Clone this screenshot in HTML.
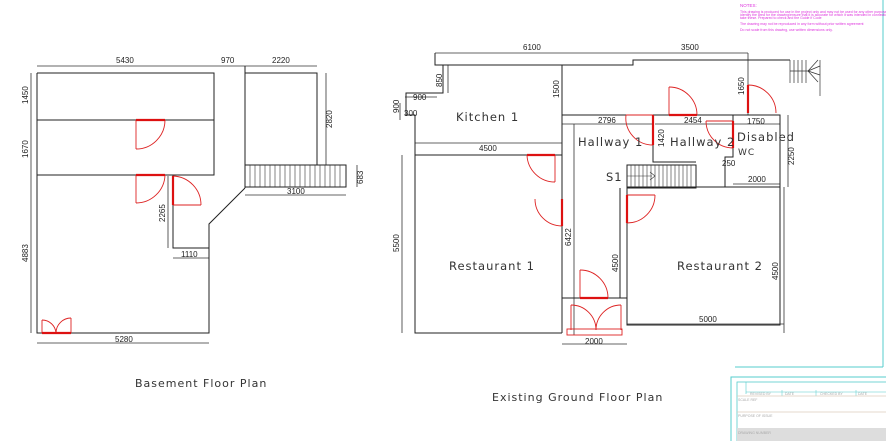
<!DOCTYPE html>
<html><head><meta charset="utf-8"><style>
html,body{margin:0;padding:0;background:#fff;}
svg{display:block;}
.w{stroke:#222;stroke-width:1;fill:none;}
.d{stroke:#333;stroke-width:0.8;fill:none;}
.r{stroke:#d22;stroke-width:0.9;fill:none;}
.rl{stroke:#d11;stroke-width:2.2;}
.t{font-family:"Liberation Sans",sans-serif;font-size:8px;fill:#222;}
.L{font-family:"DejaVu Sans","Liberation Sans",sans-serif;font-size:11.5px;fill:#333;letter-spacing:1px;}
</style></head><body>
<svg width="886" height="441" viewBox="0 0 886 441" xmlns="http://www.w3.org/2000/svg">
<!-- ===== BASEMENT ===== -->
<g class="d">
<line x1="37" y1="66" x2="317" y2="66"/>
<line x1="31" y1="73" x2="31" y2="333"/>
<line x1="37" y1="343" x2="209" y2="343"/>
<line x1="168" y1="176" x2="168" y2="248"/>
<line x1="173" y1="258" x2="209" y2="258"/>
<line x1="326" y1="73" x2="326" y2="165"/>
<line x1="357" y1="165" x2="357" y2="187"/>
<line x1="245" y1="195" x2="346" y2="195"/>
</g>
<g class="w">
<polyline points="37,73 214,73 214,175 37,175"/>
<line x1="37" y1="120" x2="214" y2="120"/>
<polyline points="37,73 37,333 209,333 209,224 245,188"/>
<polyline points="173,175 173,248 209,248"/>
<polyline points="245,66 245,188"/>
<polyline points="245,73 317,73 317,165"/>
<rect x="245" y="165" width="101" height="22"/>
</g>
<g stroke="#333" stroke-width="0.6">
<line x1="250" y1="165" x2="250" y2="187"/><line x1="255" y1="165" x2="255" y2="187"/><line x1="260" y1="165" x2="260" y2="187"/><line x1="265" y1="165" x2="265" y2="187"/><line x1="270" y1="165" x2="270" y2="187"/><line x1="275" y1="165" x2="275" y2="187"/><line x1="280" y1="165" x2="280" y2="187"/><line x1="285" y1="165" x2="285" y2="187"/><line x1="290" y1="165" x2="290" y2="187"/><line x1="295" y1="165" x2="295" y2="187"/><line x1="300" y1="165" x2="300" y2="187"/><line x1="305" y1="165" x2="305" y2="187"/><line x1="310" y1="165" x2="310" y2="187"/><line x1="315" y1="165" x2="315" y2="187"/><line x1="320" y1="165" x2="320" y2="187"/><line x1="325" y1="165" x2="325" y2="187"/><line x1="330" y1="165" x2="330" y2="187"/><line x1="335" y1="165" x2="335" y2="187"/><line x1="340" y1="165" x2="340" y2="187"/>
</g>
<g class="r">
<line x1="136" y1="120" x2="136" y2="149"/><path d="M165,120 A29,29 0 0 1 136,149"/>
<line x1="136" y1="175" x2="136" y2="203"/><path d="M165,175 A29,29 0 0 1 136,203"/>
<line x1="173" y1="205" x2="201" y2="205"/><path d="M173,176 A29,29 0 0 1 201,205"/>
<line x1="42" y1="333" x2="42" y2="320"/><path d="M42,320 A14,14 0 0 1 56,333"/>
<line x1="71" y1="333" x2="71" y2="318"/><path d="M71,318 A15,15 0 0 0 56,333"/>
</g>
<g class="rl"><line x1="136" y1="120" x2="165" y2="120"/><line x1="136" y1="175" x2="165" y2="175"/><line x1="173" y1="176" x2="173" y2="205"/><line x1="42" y1="333" x2="71" y2="333"/></g>
<text class="t" x="116" y="63">5430</text><text class="t" x="221" y="63">970</text><text class="t" x="272" y="63">2220</text>
<text class="t" transform="translate(28,104) rotate(-90)">1450</text>
<text class="t" transform="translate(28,158) rotate(-90)">1670</text>
<text class="t" transform="translate(28,262) rotate(-90)">4883</text>
<text class="t" transform="translate(165,222) rotate(-90)">2265</text>
<text class="t" transform="translate(332,128) rotate(-90)">2820</text>
<text class="t" transform="translate(363,184) rotate(-90)">683</text>
<text class="t" x="181" y="257">1110</text><text class="t" x="287" y="194">3100</text><text class="t" x="115" y="342">5280</text>
<text class="L" x="135" y="387" style="font-size:11px">Basement Floor Plan</text>

<!-- ===== GROUND ===== -->
<g class="d">
<line x1="435" y1="53" x2="748" y2="53"/>
<line x1="448" y1="65" x2="448" y2="93"/>
<line x1="405" y1="97" x2="437" y2="97"/>
<line x1="400" y1="103" x2="400" y2="120"/>
<line x1="415" y1="143" x2="562" y2="143"/>
<line x1="402" y1="155" x2="402" y2="333"/>
<line x1="562" y1="124" x2="653" y2="124"/>
<line x1="655" y1="124" x2="733" y2="124"/>
<line x1="733" y1="124" x2="780" y2="124"/>
<line x1="788" y1="115" x2="788" y2="187"/>
<line x1="733" y1="184" x2="780" y2="184"/>
<line x1="784" y1="187" x2="784" y2="333"/>
<line x1="627" y1="324" x2="784" y2="324"/>
<line x1="562" y1="344" x2="627" y2="344"/>
<line x1="748" y1="53" x2="748" y2="115"/>
<line x1="574" y1="124" x2="574" y2="335"/>
</g>
<g class="w">
<polyline points="435,53 435,65 633,65 633,60 790,60"/>
<polyline points="443,65 443,93 406,93 406,115 415,115 415,155 562,155"/>
<line x1="562" y1="65" x2="562" y2="333"/>
<polyline points="562,115 780,115 780,187"/>
<polyline points="415,155 415,333 562,333"/>
<line x1="562" y1="298" x2="627" y2="298"/>
<polyline points="620,188 620,298"/>
<polyline points="627,188 627,325 780,325 780,187 627,187"/>
<polyline points="653,124 653,162 696,162"/>
<polyline points="733,115 733,157 725,157 725,187"/>
<rect x="627" y="165" width="69" height="23"/>
</g>
<g stroke="#333" stroke-width="0.6">
<line x1="631" y1="165" x2="631" y2="188"/><line x1="635" y1="165" x2="635" y2="188"/><line x1="639" y1="165" x2="639" y2="188"/><line x1="643" y1="165" x2="643" y2="188"/><line x1="647" y1="165" x2="647" y2="188"/><line x1="651" y1="165" x2="651" y2="188"/><line x1="655" y1="165" x2="655" y2="188"/><line x1="659" y1="165" x2="659" y2="188"/><line x1="663" y1="165" x2="663" y2="188"/><line x1="667" y1="165" x2="667" y2="188"/><line x1="671" y1="165" x2="671" y2="188"/><line x1="675" y1="165" x2="675" y2="188"/><line x1="679" y1="165" x2="679" y2="188"/><line x1="683" y1="165" x2="683" y2="188"/><line x1="687" y1="165" x2="687" y2="188"/><line x1="691" y1="165" x2="691" y2="188"/>
<line x1="627" y1="176" x2="652" y2="176"/><polyline points="650,172 655,176 650,180" fill="none"/>
</g>
<!-- top-right stairs -->
<g stroke="#333" stroke-width="0.7" fill="none">
<line x1="790" y1="60" x2="790" y2="83"/><line x1="794" y1="60" x2="794" y2="83"/><line x1="798" y1="60" x2="798" y2="83"/><line x1="802" y1="60" x2="802" y2="83"/><line x1="806" y1="60" x2="806" y2="83"/>
<line x1="790" y1="71" x2="808" y2="71"/><line x1="808" y1="71" x2="818" y2="60"/><line x1="808" y1="71" x2="820" y2="66"/><line x1="808" y1="71" x2="820" y2="75"/><line x1="808" y1="71" x2="818" y2="82"/>
<line x1="820" y1="60" x2="820" y2="96"/>
</g>
<g class="r">
<line x1="669" y1="115" x2="669" y2="87"/><path d="M669,87 A28,28 0 0 1 697,115"/>
<line x1="748" y1="113" x2="748" y2="85"/><path d="M748,85 A28,28 0 0 1 776,113"/>
<line x1="626" y1="115" x2="653" y2="115"/><path d="M626,115 A27,27 0 0 0 653,145"/>
<line x1="706" y1="121" x2="733" y2="121"/><path d="M706,121 A27,27 0 0 0 733,148"/>
<line x1="555" y1="155" x2="555" y2="182"/><path d="M527,155 A28,28 0 0 0 555,182" />
<path d="M535,199 A27,27 0 0 0 562,226"/>
<line x1="627" y1="195" x2="655" y2="195"/><path d="M655,195 A28,28 0 0 1 627,223"/>
<line x1="580" y1="298" x2="580" y2="270"/><path d="M580,270 A28,28 0 0 1 608,298"/>
<line x1="571" y1="330" x2="571" y2="305"/><path d="M571,305 A25,25 0 0 1 596,330"/>
<line x1="621" y1="330" x2="621" y2="305"/><path d="M621,305 A25,25 0 0 0 596,330"/>
<rect x="567" y="329" width="55" height="6"/>
</g>
<g class="rl"><line x1="669" y1="115" x2="697" y2="115"/><line x1="748" y1="85" x2="748" y2="113"/><line x1="653" y1="115" x2="653" y2="145"/><line x1="733" y1="121" x2="733" y2="148"/><line x1="527" y1="155" x2="555" y2="155"/><line x1="562" y1="199" x2="562" y2="226"/><line x1="627" y1="195" x2="627" y2="223"/><line x1="580" y1="298" x2="608" y2="298"/></g>
<text class="t" x="523" y="50">6100</text><text class="t" x="681" y="50">3500</text>
<text class="t" transform="translate(442,87) rotate(-90)">850</text>
<text class="t" x="413" y="100">900</text>
<text class="t" x="404" y="116">300</text>
<text class="t" transform="translate(399,113) rotate(-90)">900</text>
<text class="t" transform="translate(559,98) rotate(-90)">1500</text>
<text class="t" x="479" y="151">4500</text>
<text class="t" transform="translate(399,252) rotate(-90)">5500</text>
<text class="t" x="598" y="123">2796</text><text class="t" x="684" y="123">2454</text><text class="t" x="747" y="124">1750</text>
<text class="t" transform="translate(664,147) rotate(-90)">1420</text>
<text class="t" transform="translate(744,95) rotate(-90)">1650</text>
<text class="t" transform="translate(794,165) rotate(-90)">2250</text>
<text class="t" x="722" y="166">250</text><text class="t" x="748" y="182">2000</text>
<text class="t" transform="translate(571,246) rotate(-90)">6422</text>
<text class="t" transform="translate(618,272) rotate(-90)">4500</text>
<text class="t" transform="translate(778,280) rotate(-90)">4500</text>
<text class="t" x="699" y="322">5000</text><text class="t" x="585" y="344">2000</text>
<text class="L" x="456" y="121">Kitchen 1</text>
<text class="L" x="578" y="146">Hallway 1</text>
<text class="L" x="670" y="146">Hallway 2</text>
<text class="L" x="737" y="141">Disabled</text>
<text class="L" x="738" y="155" style="font-size:9px">WC</text>
<text class="L" x="606" y="181">S1</text>
<text class="L" x="449" y="270">Restaurant 1</text>
<text class="L" x="677" y="270">Restaurant 2</text>
<text class="L" x="492" y="401" style="font-size:11px">Existing Ground Floor Plan</text>

<!-- ===== NOTES / TITLE BLOCK ===== -->
<line x1="883" y1="0" x2="883" y2="367" stroke="#5cc" stroke-width="1"/>
<line x1="735" y1="367" x2="883" y2="367" stroke="#5cc" stroke-width="1"/>
<g font-family="Liberation Sans,sans-serif" fill="#d3d" font-size="3.5">
<text x="740" y="7" font-size="4.5">NOTES:</text>
<text x="740" y="13">This drawing is produced for use in the project only and may not be used for any other purpose. JMS Eco ...</text>
<text x="740" y="16">identify the area for the drawing/ensure that it is accurate for which it was intended in connection with this project</text>
<text x="740" y="19">take these. Prepared to check and the Guide if Code</text>
<text x="740" y="25">The drawing may not be reproduced in any form without prior written agreement</text>
<text x="740" y="31">Do not scale from this drawing, use written dimensions only.</text>
</g>
<rect x="731" y="377" width="160" height="70" fill="none" stroke="#5cc" stroke-width="1"/>
<rect x="737" y="382" width="154" height="60" fill="none" stroke="#5cc" stroke-width="0.8"/>
<line x1="746" y1="382" x2="746" y2="394" stroke="#5cc" stroke-width="0.6"/>
<line x1="746" y1="392" x2="886" y2="392" stroke="#5cc" stroke-width="0.6"/>
<line x1="782" y1="390" x2="782" y2="396" stroke="#5cc" stroke-width="0.5"/>
<line x1="816" y1="390" x2="816" y2="396" stroke="#5cc" stroke-width="0.5"/>
<line x1="856" y1="390" x2="856" y2="396" stroke="#5cc" stroke-width="0.5"/>
<line x1="737" y1="396" x2="886" y2="396" stroke="#dcb" stroke-width="0.8"/>
<line x1="737" y1="412" x2="886" y2="412" stroke="#dcb" stroke-width="0.8"/>
<rect x="737" y="428" width="150" height="14" fill="#ddd"/>
<g font-family="Liberation Sans,sans-serif" fill="#aaa" font-size="3.5">
<text x="750" y="395">REVISED BY</text><text x="785" y="395">DATE</text><text x="820" y="395">CHECKED BY</text><text x="858" y="395">DATE</text>
<text x="738" y="401">SCALE REF</text><text x="738" y="417">PURPOSE OF ISSUE</text><text x="738" y="434">DRAWING NUMBER</text>
</g>
</svg>
</body></html>
